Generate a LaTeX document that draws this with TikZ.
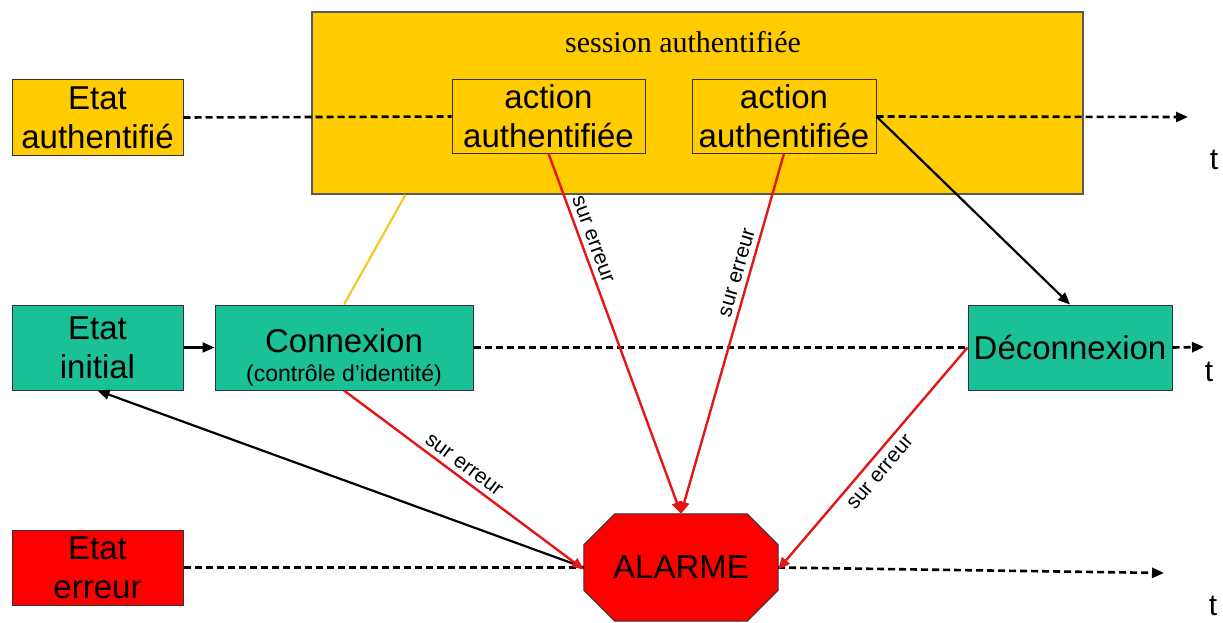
\documentclass[tikz,border=0pt]{standalone}
\usepackage{fontspec}
\setmainfont{Liberation Sans}
\newfontfamily\serifface{Liberation Serif}
\usetikzlibrary{arrows.meta,calc}
\definecolor{gold}{RGB}{255,204,0}
\definecolor{tealbox}{RGB}{26,192,150}
\definecolor{alarmred}{RGB}{255,0,0}
\definecolor{linered}{RGB}{228,22,22}
\definecolor{linkyellow}{RGB}{245,200,40}
\begin{document}
\begin{tikzpicture}[x=1pt,y=-1pt,
  box/.style={draw=black!80,line width=1pt,inner sep=0pt,align=center,
    font=\fontsize{33}{39}\selectfont},
  goldbox/.style={box,fill=gold},
  tealnode/.style={box,fill=tealbox},
  redbox/.style={box,fill=alarmred},
  tip/.style={-{Triangle[length=12pt,width=10pt]}},
  timeline/.style={line width=2.6pt,dash pattern=on 7pt off 4pt,black},
  errline/.style={linered,line width=2.4pt,tip},
  solidarrow/.style={black,line width=2.2pt,tip},
  errlabel/.style={sloped,text=black,font=\fontsize{21}{21}\selectfont,inner sep=0pt},
  tlabel/.style={font=\fontsize{30}{30}\selectfont,inner sep=0pt}
]
\useasboundingbox (0,0) rectangle (1223,623);

% authenticated session frame and its actions
\node[goldbox,line width=1.5pt,draw=black!65,minimum width=771pt,minimum height=182pt] (S) at (697.5,103) {};
\node[font=\serifface\fontsize{30}{30}\selectfont,inner sep=0pt] (SL) at (683,42) {session authentifiée};
\node[goldbox,minimum width=193pt,minimum height=73pt] (A1) at (548.5,116.5) {action\\authentifiée};
\node[goldbox,minimum width=184pt,minimum height=73pt] (A2) at (784,116.5) {action\\authentifiée};

% state boxes
\node[goldbox,minimum width=171pt,minimum height=75pt] (EA) at (97.5,117.5) {Etat\\authentifié};
\node[tealnode,minimum width=171pt,minimum height=85pt] (EI) at (97.5,347.5) {Etat\\initial};
\node[tealnode,minimum width=258pt,minimum height=85pt] (CX) at (344,347.5) {};
\node[font=\fontsize{33}{33}\selectfont,inner sep=0pt] (CXa) at (344,341) {Connexion};
\node[font=\fontsize{23}{23}\selectfont,inner sep=0pt] (CXb) at (344,375) {(contrôle d’identité)};
\node[tealnode,minimum width=204pt,minimum height=85pt] (DX) at (1070,347.5) {Déconnexion};
\node[redbox,minimum width=171pt,minimum height=75pt] (EE) at (97.5,567.5) {Etat\\erreur};

% alarm octagon
\node[minimum width=194pt,minimum height=107pt,inner sep=0pt] (AL) at (681,567.5) {};
\fill[alarmred,draw=black!80,line width=1pt]
  ($(AL.north west)+(31,0)$) -- ($(AL.north east)+(-31,0)$) -- ($(AL.north east)+(0,31)$)
  -- ($(AL.south east)+(0,-31)$) -- ($(AL.south east)+(-31,0)$) -- ($(AL.south west)+(31,0)$)
  -- ($(AL.south west)+(0,-31)$) -- ($(AL.north west)+(0,31)$) -- cycle;
\node[font=\fontsize{33}{33}\selectfont,inner sep=0pt] (ALt) at (AL.center) {ALARME};

% time axes
\coordinate (tA) at (1188,117);
\coordinate (tB) at (1204,347);
\coordinate (tC) at (1164,573);
\draw[timeline] (EA.east) -- (A1.west);
\draw[timeline,tip] (A2.east) -- (tA);
\draw[timeline] (CX.east) -- (DX.west);
\draw[timeline,tip] (DX.east) -- (tB);
\draw[timeline] (EE.east) -- (AL.west);
\draw[timeline,tip] (AL.east) -- (tC);
\node[tlabel] (t1) at (1214,160) {t};
\node[tlabel] (t2) at (1209,372) {t};
\node[tlabel] (t3) at (1213,606) {t};

% transitions
\draw[linkyellow,line width=2.2pt] ($(S.south west)!0.122!(S.south east)$) -- (CX.north);
\draw[solidarrow] (EI.east) -- (CX.west);
\draw[solidarrow] (A2.east) -- (DX.north);
\draw[solidarrow] (AL.west) -- (EI.south);

% error transitions
\draw[errline] (A1.south) -- node[errlabel,pos=0.25,above=5pt] (L1) {sur erreur} (AL.north);
\draw[errline] (A2.south) -- node[errlabel,pos=0.34,above=5pt] (L2) {sur erreur} (AL.north);
\draw[errline] (CX.south) -- node[errlabel,pos=0.47,above=5pt] (L3) {sur erreur} ([yshift=-2pt]AL.west);
\draw[errline] (DX.west) -- node[errlabel,pos=0.52,below=8pt] (L4) {sur erreur} ([yshift=-2pt]AL.east);
\end{tikzpicture}
\end{document}
